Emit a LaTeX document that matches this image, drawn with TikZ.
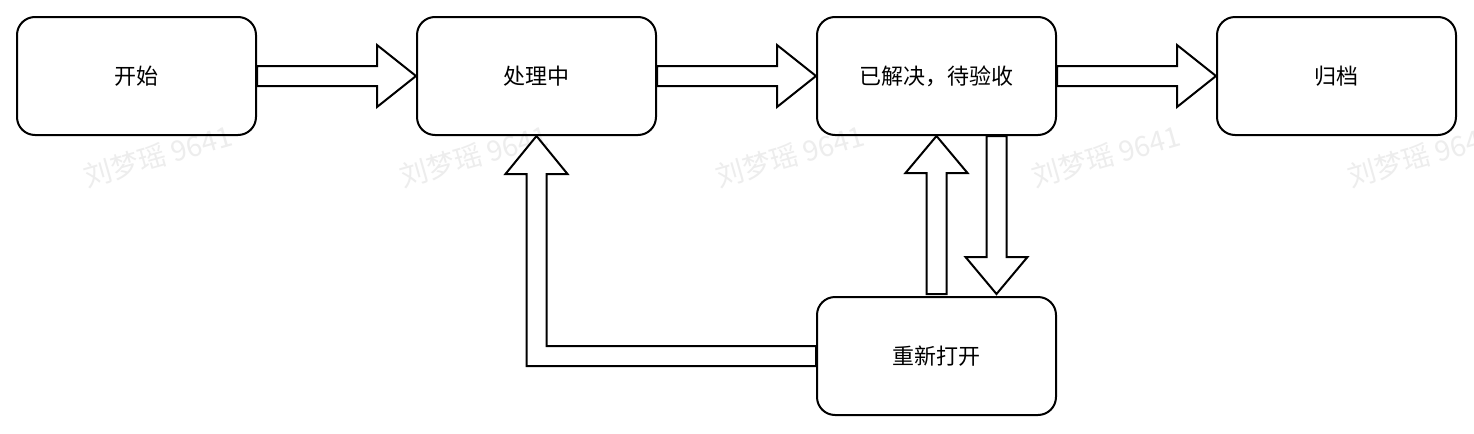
\documentclass[tikz,border=0pt]{standalone}
\usepackage{fontspec}
\newfontfamily\cjk{Noto Sans CJK SC}
\newfontfamily\cjklight{Noto Sans CJK SC Light}
\usetikzlibrary{calc}
\tikzset{
  box/.style={draw=black, line width=1pt, rounded corners=9pt, minimum width=119.5pt, minimum height=59pt, inner sep=0pt, font=\cjk\fontsize{11pt}{13pt}\selectfont},
  blockarrow/.style={draw=black, fill=white, line width=1pt, line join=miter},
  wmark/.style={text=black!7, font=\cjk\fontsize{14pt}{16pt}\selectfont, rotate=16}
}
\begin{document}
\begin{tikzpicture}[x=0.5pt, y=-0.5pt]
\useasboundingbox (0,0) rectangle (1474,434);
\fill[white] (0,0) rectangle (1474,434);
\begin{scope}
\clip (0,0) rectangle (1474,434);
\foreach \i in {0,...,4} {
  \node[wmark] (wm\i) at (158+316*\i,156) {刘梦瑶 9641};
}
\end{scope}
\node[box] (start) at (136.5,76) {开始};
\node[box] (proc) at (536.5,76) {处理中};
\node[box] (solved) at (936.5,76) {已解决，待验收};
\node[box] (arch) at (1336.5,76) {归档};
\node[box] (reopen) at (936.5,356) {重新打开};
% horizontal block arrows
\foreach \a/\b in {start/proc, proc/solved, solved/arch} {
  \draw[blockarrow] ($(\a.east)+(0,-10)$) -- ($(\b.west)+(-39,-10)$) -- ($(\b.west)+(-39,-31)$) -- (\b.west) -- ($(\b.west)+(-39,31)$) -- ($(\b.west)+(-39,10)$) -- ($(\a.east)+(0,10)$) -- cycle;
}
% up arrow reopen -> solved
\draw[blockarrow] ($(reopen.north)+(-10,-2)$) -- ($(solved.south)+(-10,37)$) -- ($(solved.south)+(-31,37)$) -- (solved.south) -- ($(solved.south)+(31,37)$) -- ($(solved.south)+(10,37)$) -- ($(reopen.north)+(10,-2)$) -- cycle;
% down arrow solved -> reopen
\draw[blockarrow] ($(solved.south)+(50,0)$) -- ($(reopen.north)+(50,-39)$) -- ($(reopen.north)+(29,-39)$) -- ($(reopen.north)+(60,-2)$) -- ($(reopen.north)+(91,-39)$) -- ($(reopen.north)+(70,-39)$) -- ($(solved.south)+(70,0)$) -- cycle;
% L arrow reopen -> proc
\coordinate (bend) at (proc.south |- reopen.west);
\draw[blockarrow] ($(reopen.west)+(0,-10)$) -- ($(bend)+(10,-10)$) -- ($(proc.south)+(10,38)$) -- ($(proc.south)+(31,38)$) -- (proc.south) -- ($(proc.south)+(-31,38)$) -- ($(proc.south)+(-10,38)$) -- ($(bend)+(-10,10)$) -- ($(reopen.west)+(0,10)$) -- cycle;
\end{tikzpicture}
\end{document}
